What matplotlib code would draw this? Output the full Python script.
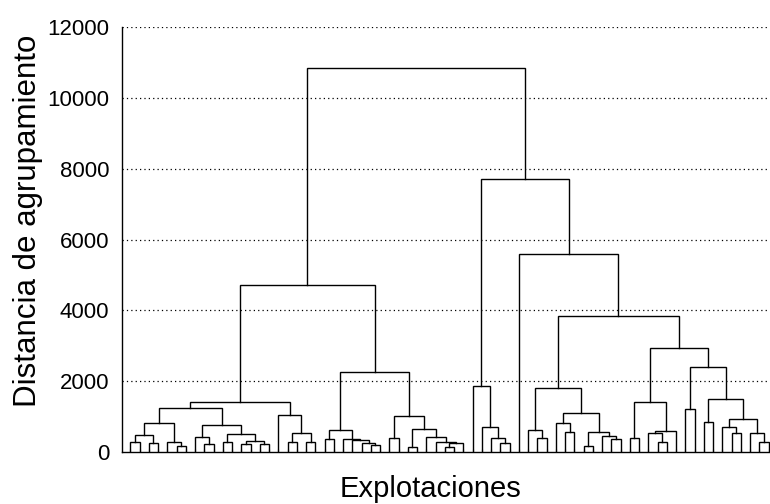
import matplotlib
matplotlib.use("Agg")
import matplotlib.pyplot as plt

# Dendrogram merges (leaves 0..69, merged clusters numbered 70, 71, ...)
n_leaves = 70
left_child = [0, 2, 70, 5, 4, 72, 8, 7, 10, 12, 14, 79, 78, 77, 75, 17, 19, 85, 16, 84,
              21, 26, 25, 24, 23, 90, 28, 30, 34, 98, 33, 32, 97, 96, 95, 89,
              40, 39, 38, 37, 44, 43, 47, 46, 49, 52, 51, 114, 113, 111,
              54, 57, 56, 122, 120, 60, 62, 65, 64, 68, 67, 128, 126, 125, 124, 119, 42, 109, 105]
right_child = [1, 3, 71, 6, 73, 74, 9, 76, 11, 13, 15, 80, 81, 82, 83, 18, 20, 86, 87, 88,
               22, 27, 91, 92, 93, 94, 29, 31, 35, 36, 99, 100, 101, 102, 103, 104,
               41, 106, 107, 108, 45, 110, 48, 112, 50, 53, 115, 116, 117, 118,
               55, 58, 121, 59, 123, 61, 63, 66, 127, 69, 129, 130, 131, 132, 133, 134, 135, 136, 137]
merge_height = [290, 245, 480, 180, 280, 810, 217, 415, 290, 226, 226, 319, 510, 761, 1240,
                273, 273, 527, 1043, 1410,
                357, 197, 245, 330, 375, 620, 386, 150, 132, 245, 290, 414, 640, 1024, 2250, 4720,
                245, 403, 713, 1860, 386, 620, 573, 810, 178, 357, 460, 555, 1109, 1796,
                386, 273, 527, 600, 1419, 1204, 855, 545, 697, 290, 527, 930, 1495, 2397, 2933,
                3835, 5584, 7700, 10850]
y_ticks = [0, 2000, 4000, 6000, 8000, 10000, 12000]

plt.rcParams['font.family'] = ['Liberation Sans', 'DejaVu Sans']

fig = plt.figure(figsize=(7.7, 5.04), dpi=100)
ax = fig.add_axes([0.1584, 0.1032, 0.8416, 0.8432])

# node positions: leaf at its index, cluster at mean of its children
pos_x = list(range(n_leaves))
pos_y = [0.0] * n_leaves
for a, b, h in zip(left_child, right_child, merge_height):
    xa, xb = pos_x[a], pos_x[b]
    ax.plot([xa, xa, xb, xb], [pos_y[a], h, h, pos_y[b]], color='black', lw=1.0,
            solid_joinstyle='miter', zorder=3)
    pos_x.append((xa + xb) / 2)
    pos_y.append(h)

# dotted grid
for t in y_ticks[1:]:
    ax.axhline(t, color='black', ls=(0, (1, 2.5)), lw=0.9, zorder=1)

ax.set_xlim(-0.9, n_leaves - 0.85)
ax.set_ylim(0, 12000)
ax.set_yticks(y_ticks)
ax.set_xticks(range(n_leaves))
ax.set_xticklabels([])
ax.tick_params(axis='x', direction='in', length=2, width=0.8)
ax.tick_params(axis='y', length=0, labelsize=16, pad=9)

ax.spines['top'].set_visible(False)
ax.spines['right'].set_visible(False)
ax.spines['left'].set_linewidth(1.0)
ax.spines['bottom'].set_linewidth(1.0)

fig.text(430 / 770, 1 - 489 / 504, "Explotaciones", fontsize=21,
         ha='center', va='center')
fig.text(28 / 770, 1 - 221 / 504, "Distancia de agrupamiento", fontsize=22.5,
         rotation=90, ha='center', va='center')

fig.savefig("out.png", dpi=100)
